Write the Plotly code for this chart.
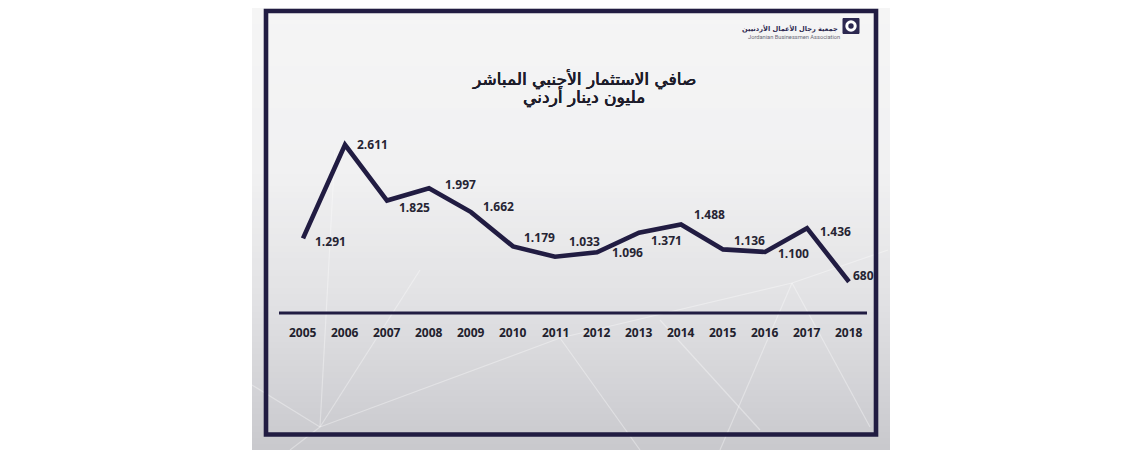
import plotly.graph_objects as go

# ---- data ----
years = ["2005", "2006", "2007", "2008", "2009", "2010", "2011",
         "2012", "2013", "2014", "2015", "2016", "2017", "2018"]
fdi_values = [1291, 2611, 1825, 1997, 1662, 1179, 1033,
              1096, 1371, 1488, 1136, 1100, 1436, 680]
title_line1 = "صافي الاستثمار الأجنبي المباشر"
title_line2 = "مليون دينار أردني"
logo_ar = "جمعية رجال الأعمال الأردنيين"
logo_en = "Jordanian Businessmen Association"

# ---- layout geometry (page has an 8px body margin) ----
OFF = 8
W, H = 1140 - OFF, 450 - OFF
PL, PT, PW, PH = 282, 103, 588, 227          # plot area in screen pixels
ML, MT = PL - OFF, PT - OFF
MR, MB = W - ML - PW, H - MT - PH
NAVY = "#211c42"


def px(x):
    return (x - PL) / PW


def py(y):
    return (PT + PH - y) / PH


# label offsets (xshift, yshift) in pixels
label_offsets = [(10, -3), (10, 0), (10, -7), (14, 4), (10, 6), (9, 9), (12, 15),
                 (13, 0), (10, -8), (11, 10), (9, 9), (11, -2), (11, -3), (2, 6)]

fig = go.Figure()
fig.add_trace(go.Scatter(
    x=years, y=fdi_values, mode="lines",
    line=dict(color=NAVY, width=4.6),
    hoverinfo="skip", showlegend=False,
))

shapes = []


def bg_color(y):
    stops = [(0, (245, 245, 245)), (170, (241, 241, 242)), (300, (226, 226, 228)), (450, (200, 200, 205))]
    for (y0, c0), (y1, c1) in zip(stops[:-1], stops[1:]):
        if y0 <= y <= y1:
            t = (y - y0) / (y1 - y0)
            return "rgb(%d,%d,%d)" % tuple(round(a + (b - a) * t) for a, b in zip(c0, c1))
    return "rgb(200,200,205)"


band = 6
for yy in range(0, 450, band):
    shapes.append(dict(type="rect", xref="paper", yref="paper",
                       x0=px(252), x1=px(890), y0=py(yy + band), y1=py(yy),
                       fillcolor=bg_color(yy + band / 2), line=dict(width=0), layer="below"))

# faint network lines
net_lines = [((320, 427), (560, 338)), ((320, 427), (335, 150)),
             ((320, 427), (420, 270)), ((320, 427), (252, 385)), ((320, 427), (290, 450)),
             ((560, 338), (792, 283)), ((792, 283), (870, 427)), ((792, 283), (888, 250)),
             ((660, 320), (760, 430)), ((560, 338), (640, 450)), ((792, 283), (720, 450))]
for (x0, y0), (x1, y1) in net_lines:
    shapes.append(dict(type="line", xref="paper", yref="paper",
                       x0=px(x0), y0=py(y0), x1=px(x1), y1=py(y1),
                       line=dict(color="rgba(255,255,255,0.35)", width=1.2), layer="below"))

# border box
shapes.append(dict(type="rect", xref="paper", yref="paper",
                   x0=px(266), x1=px(876), y0=py(434.5), y1=py(11),
                   line=dict(color=NAVY, width=4.6), fillcolor="rgba(0,0,0,0)", layer="below"))
# baseline
shapes.append(dict(type="line", xref="paper", yref="paper",
                   x0=px(279), x1=px(867), y0=py(313), y1=py(313),
                   line=dict(color=NAVY, width=3.2), layer="below"))
# logo icon
shapes.append(dict(type="rect", xref="paper", yref="paper",
                   x0=px(843), x1=px(859), y0=py(33.5), y1=py(18.5),
                   fillcolor="#2c2850", line=dict(color="#2c2850", width=1)))
shapes.append(dict(type="circle", xref="paper", yref="paper",
                   x0=px(845.3), x1=px(856.7), y0=py(31.7), y1=py(20.3),
                   fillcolor="white", line=dict(width=0)))
shapes.append(dict(type="circle", xref="paper", yref="paper",
                   x0=px(848.3), x1=px(853.7), y0=py(28.7), y1=py(23.3),
                   fillcolor="#2c2850", line=dict(width=0)))

annotations = []
for i, (v, (dx, dy)) in enumerate(zip(fdi_values, label_offsets)):
    annotations.append(dict(
        x=i, y=v, xref="x", yref="y", text=f"{v:,}".replace(",", "."),
        showarrow=False, xanchor="left", yanchor="middle", xshift=dx, yshift=dy,
        font=dict(family="Open Sans", size=12, color="#262433", weight="bold"),
    ))
for i, yr in enumerate(years):
    annotations.append(dict(
        x=i, y=0, xref="x", yref="paper", text=yr, showarrow=False,
        xanchor="center", yanchor="middle", yshift=-2,
        font=dict(family="Open Sans", size=12, color="#22212d", weight="bold"),
    ))
title_font = dict(family="DejaVu Sans", size=17, color="#1d1c2a",
                  shadow="0.45px 0 0 #1d1c2a, -0.2px 0 0 #1d1c2a")
annotations.append(dict(x=px(584), y=py(79), xref="paper", yref="paper", text=title_line1,
                        showarrow=False, xanchor="center", yanchor="middle", font=title_font))
annotations.append(dict(x=px(584), y=py(97), xref="paper", yref="paper", text=title_line2,
                        showarrow=False, xanchor="center", yanchor="middle", font=title_font))
annotations.append(dict(x=px(789.5), y=py(28), xref="paper", yref="paper", text=logo_ar,
                        showarrow=False, xanchor="center", yanchor="middle",
                        font=dict(family="DejaVu Sans", size=6.6, color="#2c2850", weight="bold")))
annotations.append(dict(x=px(793.5), y=py(36.5), xref="paper", yref="paper", text=logo_en,
                        showarrow=False, xanchor="center", yanchor="middle",
                        font=dict(family="Roboto", size=5.7, color="#6a6a78")))

fig.update_layout(
    width=W, height=H,
    margin=dict(l=ML, r=MR, t=MT, b=MB, pad=0),
    paper_bgcolor="white", plot_bgcolor="rgba(0,0,0,0)",
    xaxis=dict(type="category", range=[-0.5, len(years) - 0.5], visible=False, fixedrange=True),
    yaxis=dict(range=[0, 3200], visible=False, fixedrange=True),
    shapes=shapes, annotations=annotations, showlegend=False,
)

fig.write_html("out.html", config={"displayModeBar": False})
